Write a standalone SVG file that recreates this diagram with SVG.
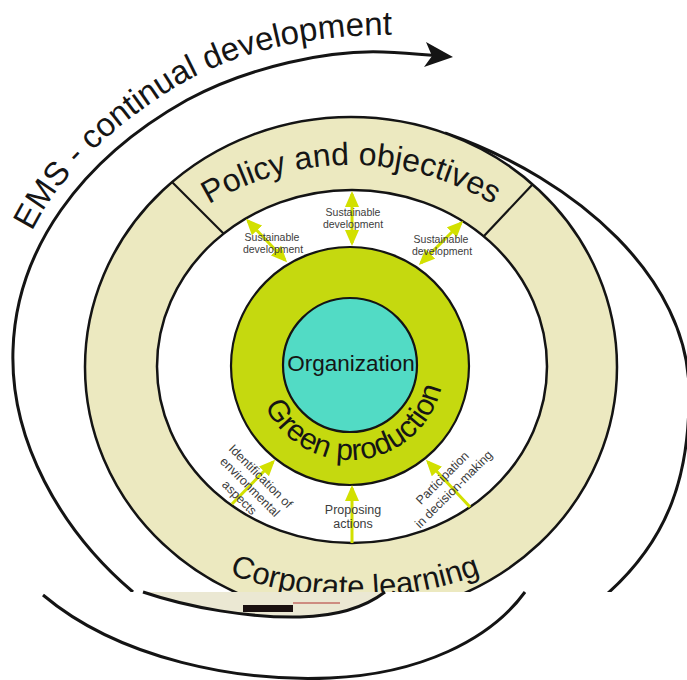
<svg xmlns="http://www.w3.org/2000/svg" width="687" height="680" viewBox="0 0 687 680">
<style>
.ringfill{fill:#ece9c0;stroke:#141414;stroke-width:2.5}
.whitefill{fill:#ffffff;stroke:#141414;stroke-width:2.5}
.line{fill:none;stroke:#141414;stroke-width:3}
.div{stroke:#141414;stroke-width:2.2}
.big{font-family:"Liberation Sans",Arial,sans-serif;fill:#151515}
.sd{font-family:"Liberation Sans",Arial,sans-serif;fill:#3c3c3c;font-size:10.5px;text-anchor:middle}
.lab{font-family:"Liberation Sans",Arial,sans-serif;fill:#3c3c3c;font-size:12.5px;text-anchor:middle}
.arr{fill:none;stroke:#d2e000;stroke-width:3}
</style>
<defs>
<clipPath id="topclip"><rect x="0" y="0" width="687" height="592"/></clipPath>
<marker id="ah" viewBox="0 0 16 14" refX="13" refY="7" markerWidth="16" markerHeight="14" markerUnits="userSpaceOnUse" orient="auto-start-reverse">
<path d="M0,0 L16,7 L0,14 Z" fill="#d2e000"/>
</marker>
<path id="pEMS" d="M20,260 C40,200 90,140 179,85 C240,50 310,36 383,35 L392,35"/>
<path id="pPolicy" d="M156.5,245.5 A275,275 0 0 1 545.5,245.5"/>
<path id="pCorp" d="M176,549 A358,358 0 0 0 534,549"/>
<path id="pGreen" d="M257,379.9 A94,94 0 0 0 443.8,360.3"/>
</defs>

<g clip-path="url(#topclip)">
<g id="ems-spiral">
<path class="line" d="M133,592 C60,530 10,440 13,350 C16,250 80,160 187,100 C250,66 330,50 383,52 C410,53 428,55 440,56"/>
<path d="M453,57 L426,42 L432,56 L424,67 Z" fill="#141414"/>
<path class="line" d="M445,133 C580,180 688,280 689,390 C690,470 672,540 600,600"/>
<text class="big" font-size="33"><textPath href="#pEMS" startOffset="100%" text-anchor="end">EMS - continual development</textPath></text>
</g>

<g id="ring">
<ellipse class="ringfill" cx="351" cy="367" rx="266" ry="250"/>
<ellipse class="whitefill" cx="352" cy="366.5" rx="195" ry="176.5"/>
<line class="div" x1="172" y1="182" x2="224" y2="234"/>
<line class="div" x1="532" y1="185" x2="484" y2="236"/>
<text class="big" font-size="32"><textPath href="#pPolicy" startOffset="50%" text-anchor="middle">Policy and objectives</textPath></text>
<text class="big" font-size="31"><textPath href="#pCorp" startOffset="50%" text-anchor="middle">Corporate learning</textPath></text>
</g>

<g id="green-production">
<circle cx="350" cy="366" r="119" fill="#c5d90f" stroke="#141414" stroke-width="2.2"/>
<text class="big" font-size="30"><textPath href="#pGreen" startOffset="50%" text-anchor="middle">Green production</textPath></text>
</g>

<g id="organization">
<circle cx="350" cy="365" r="67" fill="#52dbc5" stroke="#141414" stroke-width="2.2"/>
<text class="big" x="351" y="371" font-size="22.5" text-anchor="middle">Organization</text>
</g>

<g id="connectors">
<line class="arr" x1="352" y1="243" x2="352" y2="194" marker-start="url(#ah)" marker-end="url(#ah)"/>
<line class="arr" x1="285" y1="260" x2="248" y2="221" marker-start="url(#ah)" marker-end="url(#ah)"/>
<line class="arr" x1="421" y1="263" x2="461" y2="223" marker-start="url(#ah)" marker-end="url(#ah)"/>
<line class="arr" x1="352" y1="543" x2="352" y2="488" marker-end="url(#ah)"/>
<line class="arr" x1="232" y1="504" x2="273" y2="462" marker-end="url(#ah)"/>
<line class="arr" x1="470" y1="507" x2="428" y2="462" marker-end="url(#ah)"/>
</g>

<g id="labels">
<text class="sd"><tspan x="353" y="216">Sustainable</tspan><tspan x="353" y="228">development</tspan></text>
<text class="sd"><tspan x="272" y="241">Sustainable</tspan><tspan x="273" y="253">development</tspan></text>
<text class="sd"><tspan x="441" y="243">Sustainable</tspan><tspan x="442" y="255">development</tspan></text>
<text class="lab"><tspan x="353" y="514">Proposing</tspan><tspan x="353" y="528">actions</tspan></text>
<text class="lab" transform="translate(260.5,476.5) rotate(45)"><tspan x="0" y="4">Identification of</tspan><tspan x="0" y="19">environmental</tspan><tspan x="0" y="34">aspects</tspan></text>
<text class="lab" transform="translate(442.5,478) rotate(-45)"><tspan x="0" y="4">Participation</tspan><tspan x="0" y="20">in decision-making</tspan></text>
</g>
</g>

<g id="lower-band">
<path d="M143,592 C190,608 250,618 300,617 C340,616 368,605 385,592 Z" fill="#ebe8d3"/>
<path class="line" d="M143,592 C190,608 250,618 300,617 C340,616 368,605 385,592"/>
<rect x="243" y="605" width="50" height="7" fill="#1a1010"/>
<line x1="293" y1="603" x2="340" y2="603" stroke="#b03030" stroke-width="1"/>
<path class="line" d="M43,595 C120,660 240,682 330,678 C420,674 490,640 525,592"/>
</g>
</svg>
